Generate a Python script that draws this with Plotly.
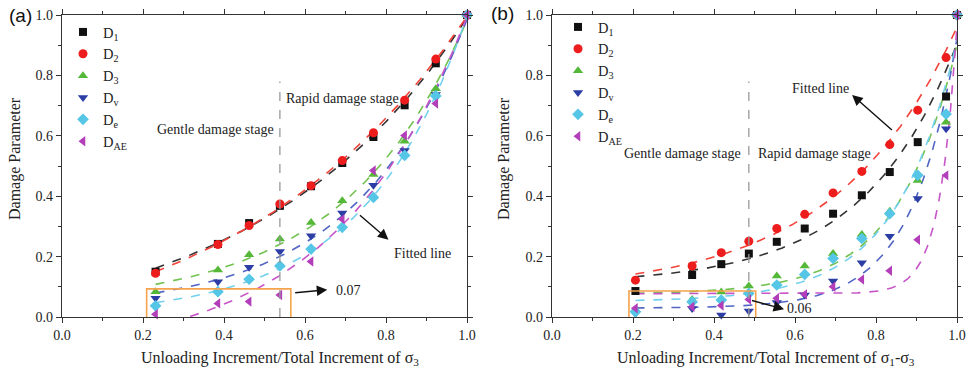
import numpy as np
import plotly.graph_objects as go

# ---------------- data: panel (a) ----------------
x_a = [0.231, 0.385, 0.462, 0.538, 0.615, 0.692, 0.769, 0.846, 0.923, 1.0]
a_D1 = [0.150, 0.242, 0.311, 0.368, 0.433, 0.510, 0.596, 0.701, 0.840, 1.0]
a_D2 = [0.145, 0.240, 0.303, 0.374, 0.435, 0.518, 0.610, 0.718, 0.854, 1.0]
a_D3 = [0.084, 0.156, 0.206, 0.258, 0.313, 0.385, 0.472, 0.582, 0.756, 1.0]
a_Dv = [0.062, 0.117, 0.165, 0.217, 0.269, 0.344, 0.436, 0.551, 0.737, 1.0]
a_De = [0.037, 0.084, 0.125, 0.169, 0.225, 0.297, 0.396, 0.535, 0.732, 1.0]
a_DAE = [0.009, 0.045, 0.051, 0.073, 0.184, 0.324, 0.485, 0.601, 0.707, 1.0]

# ---------------- data: panel (b) ----------------
x_b = [0.206, 0.346, 0.418, 0.486, 0.555, 0.624, 0.694, 0.765, 0.834, 0.903, 0.973, 1.0]
b_D1 = [0.086, 0.139, 0.175, 0.210, 0.249, 0.293, 0.342, 0.403, 0.480, 0.579, 0.730, 1.0]
b_D2 = [0.122, 0.169, 0.213, 0.251, 0.293, 0.340, 0.411, 0.482, 0.571, 0.685, 0.859, 1.0]
b_D3 = [0.025, 0.058, 0.083, 0.103, 0.136, 0.169, 0.210, 0.273, 0.350, 0.452, 0.645, 1.0]
b_Dv = [0.012, 0.028, 0.007, 0.020, 0.048, 0.073, 0.119, 0.180, 0.267, 0.392, 0.623, 1.0]
b_De = [0.017, 0.050, 0.056, 0.078, 0.106, 0.141, 0.194, 0.260, 0.342, 0.469, 0.672, 1.0]
b_DAE = [0.029, 0.034, 0.038, 0.058, 0.062, 0.075, 0.100, 0.124, 0.153, 0.256, 0.469, 1.0]

series_names = ["D<sub>1</sub>", "D<sub>2</sub>", "D<sub>3</sub>",
                "D<sub>v</sub>", "D<sub>e</sub>", "D<sub>AE</sub>"]
tick_vals = [0.0, 0.2, 0.4, 0.6, 0.8, 1.0]
tick_text = ["0.0", "0.2", "0.4", "0.6", "0.8", "1.0"]

# ---------------- styles ----------------
marker_colors = ["#111111", "#ee1d1d", "#55b838", "#2c3ea6", "#55c6e6", "#b23fb9"]
line_colors = ["#333333", "#f2433a", "#72c24f", "#5064c4", "#72d0ee", "#c755c8"]
symbols = ["square", "circle", "triangle-up", "triangle-down", "diamond", "triangle-left"]
sizes = [8, 9, 9, 9, 9, 9]
SERIF = "Liberation Serif"
ORANGE = "#f5a34c"


def fit_curve(x, y, xs):
    """Least-squares fit of y = a + b*exp(c*(x-1)) (grid search on c)."""
    x = np.asarray(x, float)
    y = np.asarray(y, float)
    best = None
    for c in np.linspace(0.2, 90, 1800):
        A = np.column_stack([np.ones_like(x), np.exp(c * (x - 1))])
        coef = np.linalg.lstsq(A, y, rcond=None)[0]
        r = np.sum((A @ coef - y) ** 2)
        if best is None or r < best[0]:
            best = (r, c, coef)
    _, c, coef = best
    return coef[0] + coef[1] * np.exp(c * (xs - 1))


fig = go.Figure()

panels = [
    ("x", "y", "legend", x_a, [a_D1, a_D2, a_D3, a_Dv, a_De, a_DAE]),
    ("x2", "y2", "legend2", x_b, [b_D1, b_D2, b_D3, b_Dv, b_De, b_DAE]),
]

for xa, ya, leg, xv, ys in panels:
    xs = np.linspace(xv[0], 1.0, 300)
    for i, yv in enumerate(ys):
        fig.add_trace(go.Scatter(
            x=xs, y=fit_curve(xv, yv, xs), mode="lines",
            line=dict(color=line_colors[i], width=1.6, dash="dash"),
            xaxis=xa, yaxis=ya, showlegend=False, hoverinfo="skip"))
    for i, yv in enumerate(ys):
        fig.add_trace(go.Scatter(
            x=xv, y=yv, mode="markers", name=series_names[i],
            marker=dict(symbol=symbols[i], size=sizes[i], color=marker_colors[i],
                        line=dict(width=0)),
            xaxis=xa, yaxis=ya, legend=leg, cliponaxis=False))

axis_common = dict(
    range=[0, 1.0], showgrid=False, zeroline=False, showline=True, mirror="ticks",
    linecolor="#333333", linewidth=1.3, ticks="outside", ticklen=5, tickwidth=1.2,
    tickcolor="#333333", tickvals=tick_vals, ticktext=tick_text, automargin=False,
    tickfont=dict(family=SERIF, size=14, color="#222222"),
    minor=dict(dtick=0.1, tick0=0, ticks="outside", ticklen=3, tickwidth=1.2,
               tickcolor="#333333"),
)

ydom = [54 / 371, 356 / 371]
legfont = dict(family=SERIF, size=14.5, color="#222")
fig.update_layout(
    width=968, height=371, margin=dict(l=0, r=0, t=0, b=0, autoexpand=False),
    paper_bgcolor="white", plot_bgcolor="white",
    xaxis=dict(domain=[62 / 968, 467 / 968], anchor="y", **axis_common),
    yaxis=dict(domain=ydom, anchor="x", **axis_common),
    xaxis2=dict(domain=[552 / 968, 957 / 968], anchor="y2", **axis_common),
    yaxis2=dict(domain=ydom, anchor="x2", **axis_common),
    legend=dict(x=63 / 968, y=1 - 16 / 371, xanchor="left", yanchor="top",
                bgcolor="rgba(0,0,0,0)", font=legfont, itemwidth=30, tracegroupgap=0),
    legend2=dict(x=558 / 968, y=1 - 11 / 371, xanchor="left", yanchor="top",
                 bgcolor="rgba(0,0,0,0)", font=legfont, itemwidth=30, tracegroupgap=0),
    showlegend=True,
)

# stage boundaries and highlight boxes
for xr, yr, xb, box in [("x", "y", x_a[3], (0.209, 0.565, -0.01, 0.093)),
                        ("x2", "y2", x_b[3], (0.19, 0.503, -0.008, 0.086))]:
    fig.add_shape(type="line", xref=xr, yref=yr, x0=xb, x1=xb, y0=0, y1=0.78,
                  line=dict(color="#999999", width=1.3, dash="dash"))
    fig.add_shape(type="rect", xref=xr, yref=yr, x0=box[0], x1=box[1], y0=box[2], y1=box[3],
                  line=dict(color=ORANGE, width=1.6))

txt = dict(family=SERIF, size=14, color="#222222")
ann = [
    # panel (a)
    dict(xref="x", yref="y", x=0.38, y=0.621, text="Gentle damage stage"),
    dict(xref="x", yref="y", x=0.692, y=0.724, text="Rapid damage stage"),
    dict(xref="x", yref="y", x=0.89, y=0.21, text="Fitted line"),
    dict(xref="x", yref="y", x=0.707, y=0.087, text="0.07"),
    # panel (b)
    dict(xref="x2", yref="y2", x=0.323, y=0.543, text="Gentle damage stage"),
    dict(xref="x2", yref="y2", x=0.647, y=0.543, text="Rapid damage stage"),
    dict(xref="x2", yref="y2", x=0.663, y=0.755, text="Fitted line"),
    dict(xref="x2", yref="y2", x=0.61, y=0.029, text="0.06"),
]
for a in ann:
    fig.add_annotation(showarrow=False, font=txt, xanchor="center", yanchor="middle", **a)

arrows = [
    ("x", "y", 0.806, 0.256, 0.732, 0.341),
    ("x", "y", 0.655, 0.090, 0.572, 0.080),
    ("x2", "y2", 0.741, 0.735, 0.843, 0.615),
    ("x2", "y2", 0.573, 0.026, 0.49, 0.056),
]
for xr, yr, hx, hy, tx, ty in arrows:
    fig.add_annotation(xref=xr, yref=yr, axref=xr, ayref=yr, x=hx, y=hy, ax=tx, ay=ty,
                       text="", showarrow=True, arrowhead=2, arrowsize=1.5,
                       arrowwidth=1.4, arrowcolor="#111111")

# axis titles
ttl = dict(family=SERIF, size=16, color="#222222")
common = dict(xref="paper", yref="paper", showarrow=False, xanchor="center", yanchor="middle")
fig.add_annotation(x=280 / 968, y=1 - 358 / 371,
                   text="Unloading Increment/Total Increment of σ<sub>3</sub>",
                   font=ttl, **common)
fig.add_annotation(x=766 / 968, y=1 - 358 / 371,
                   text="Unloading Increment/Total Increment of σ<sub>1</sub>-σ<sub>3</sub>",
                   font=ttl, **common)
fig.add_annotation(x=15 / 968, y=1 - 159 / 371, text="Damage Parameter",
                   textangle=-90, font=ttl, **common)
fig.add_annotation(x=504 / 968, y=1 - 159 / 371, text="Damage Parameter",
                   textangle=-90, font=ttl, **common)

# panel labels
lab = dict(family="Liberation Sans", size=19, color="#111111")
fig.add_annotation(x=20 / 968, y=1 - 16 / 371, text="(a)", font=lab, **common)
fig.add_annotation(x=502 / 968, y=1 - 14 / 371, text="(b)", font=lab, **common)

page_fix = "document.body.style.margin='0'; document.body.style.overflow='hidden';"
fig.write_html("out.html", post_script=page_fix, config={"displayModeBar": False})
